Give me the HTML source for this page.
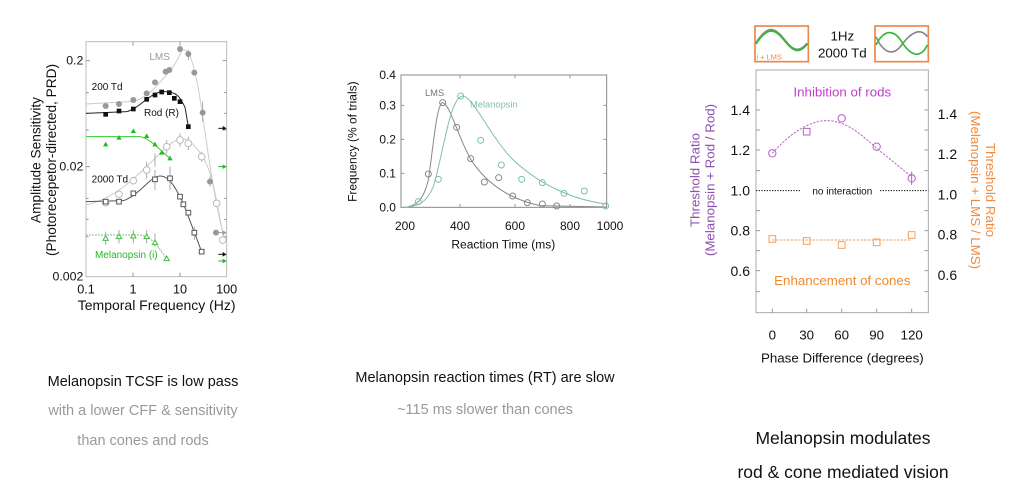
<!DOCTYPE html>
<html><head><meta charset="utf-8"><style>
html,body{margin:0;padding:0;background:#fff;width:1016px;height:489px;overflow:hidden}
svg{font-family:"Liberation Sans",Arial,sans-serif}
</style></head><body>
<svg width="1016" height="489" viewBox="0 0 1016 489" xmlns="http://www.w3.org/2000/svg">
<!-- LEFT PANEL -->
<g transform="translate(0,30) scale(0.33333)">
<rect x="258" y="35" width="422" height="705" fill="none" stroke="#bbb" stroke-width="3"/>
<g stroke="#999" stroke-width="3">
<path d="M258,92h12M258,410h12M680,92h-12M680,410h-12M258,188h8M258,250h8M258,300h8M258,505h8M258,568h8M258,620h8M680,188h-8M680,250h-8M680,300h-8M680,505h-8M680,568h-8M680,620h-8"/>
<path d="M399,740v-12M540,740v-12M399,35v12M540,35v12"/></g>
<g fill="#111" font-size="37" text-anchor="end">
<text x="250" y="104">0.2</text><text x="250" y="422">0.02</text><text x="250" y="752">0.002</text></g>
<g fill="#111" font-size="38" text-anchor="middle">
<text x="258" y="790">0.1</text><text x="399" y="790">1</text><text x="540" y="790">10</text><text x="680" y="790">100</text>
<text x="470" y="840" font-size="42">Temporal Frequency (Hz)</text></g>
<g fill="#111" font-size="41" text-anchor="middle">
<text transform="translate(122,390) rotate(-90)">Amplitude Sensitivity</text>
<text transform="translate(168,390) rotate(-90)">(Photorecepetor-directed, PRD)</text></g>
<g fill="none" stroke-width="3">
<path d="M258,222 L400,214 C440,205 470,170 510,122 S535,52 560,62 C585,90 600,200 620,340 S660,590 678,635" stroke="#ccc"/>
<path d="M258,250 L380,245 C420,235 450,186 490,185 S540,200 555,232 L565,290" stroke="#222"/>
<path d="M258,320 L420,320 C450,325 480,360 510,385" stroke="#3c3"/>
<path d="M258,525 C350,505 420,430 480,370 S560,315 600,368 S650,520 672,630" stroke="#ccc"/>
<path d="M258,515 L370,512 C420,495 450,438 480,438 S530,480 550,520 L605,665" stroke="#555"/>
<path d="M258,615 L420,615 C460,620 480,660 500,686" stroke="#7c7" stroke-dasharray="6,3"/>
</g>
<g stroke="#aaa" stroke-width="3" fill="none">
<path d="M440,395v50M465,370v40M500,330v40M540,310v40M565,320v40M605,365v30M465,420v60M510,410v70M583,590v40M465,610v40M440,600v40M400,600v40M357,600v40M317,605v40M565,60v30M608,215v60M630,440v30"/></g>
<g fill="#999">
<circle cx="317" cy="228" r="9"/><circle cx="357" cy="222" r="9"/><circle cx="400" cy="210" r="9"/><circle cx="440" cy="190" r="9"/><circle cx="465" cy="157" r="9"/><circle cx="497" cy="125" r="9"/><circle cx="508" cy="120" r="9"/><circle cx="540" cy="57" r="9"/><circle cx="565" cy="72" r="9"/><circle cx="583" cy="128" r="9"/><circle cx="608" cy="248" r="9"/><circle cx="630" cy="455" r="9"/><circle cx="648" cy="608" r="9"/></g>
<g fill="#111">
<rect x="310" y="246" width="14" height="14"/><rect x="350" y="236" width="14" height="14"/><rect x="393" y="230" width="14" height="14"/><rect x="433" y="201" width="14" height="14"/><rect x="458" y="188" width="14" height="14"/><rect x="478" y="179" width="14" height="14"/><rect x="501" y="181" width="14" height="14"/><rect x="516" y="198" width="14" height="14"/><rect x="533" y="208" width="14" height="14"/><rect x="558" y="283" width="14" height="14"/></g>
<g fill="#2b2">
<path d="M317,335 l8,14 h-16z M357,315 l8,14 h-16z M400,295 l8,14 h-16z M440,310 l8,14 h-16z M465,335 l8,14 h-16z M485,360 l8,14 h-16z M510,377 l8,14 h-16z"/></g>
<g fill="#fff" stroke="#bbb" stroke-width="3">
<circle cx="317" cy="518" r="10"/><circle cx="357" cy="493" r="10"/><circle cx="400" cy="452" r="10"/><circle cx="440" cy="420" r="10"/><circle cx="500" cy="350" r="10"/><circle cx="540" cy="330" r="10"/><circle cx="565" cy="340" r="10"/><circle cx="605" cy="380" r="10"/><circle cx="650" cy="520" r="10"/><circle cx="668" cy="630" r="10"/></g>
<g fill="#fff" stroke="#555" stroke-width="3">
<rect x="310" y="508" width="14" height="14"/><rect x="350" y="508" width="14" height="14"/><rect x="393" y="483" width="14" height="14"/><rect x="458" y="441" width="14" height="14"/><rect x="503" y="438" width="14" height="14"/><rect x="533" y="493" width="14" height="14"/><rect x="543" y="516" width="14" height="14"/><rect x="558" y="541" width="14" height="14"/><rect x="576" y="601" width="14" height="14"/><rect x="598" y="658" width="14" height="14"/></g>
<g fill="#fff" stroke="#4b4" stroke-width="3">
<path d="M317,617 l8,14 h-16z M357,612 l8,14 h-16z M400,610 l8,14 h-16z M440,612 l8,14 h-16z M465,630 l8,14 h-16z M500,678 l8,14 h-16z"/></g>
<g font-size="30">
<text x="448" y="90" fill="#999">LMS</text>
<text x="275" y="180" fill="#111">200 Td</text>
<text x="432" y="258" fill="#111">Rod (R)</text>
<text x="275" y="458" fill="#111">2000 Td</text>
<text x="285" y="684" fill="#2b2">Melanopsin (i)</text></g>
<g stroke-width="3">
<path d="M655,295 h15" stroke="#111"/><path d="M655,410 h15" stroke="#2b2"/><path d="M655,608 h15" stroke="#999"/><path d="M655,673 h15" stroke="#111"/><path d="M655,693 h15" stroke="#2b2"/></g>
<g><path d="M668,288 l12,7 l-12,7z" fill="#111"/><path d="M668,403 l12,7 l-12,7z" fill="#2b2"/><path d="M668,601 l12,7 l-12,7z" fill="#999"/><path d="M668,666 l12,7 l-12,7z" fill="#111"/><path d="M668,686 l12,7 l-12,7z" fill="#2b2"/></g>
</g>
<text x="143" y="386" font-size="14.5" text-anchor="middle" fill="#111">Melanopsin TCSF is low pass</text>
<text x="143" y="415" font-size="14.5" text-anchor="middle" fill="#999">with a lower CFF &amp; sensitivity</text>
<text x="143" y="445" font-size="14.5" text-anchor="middle" fill="#999">than cones and rods</text>

<!-- MIDDLE PANEL -->
<g transform="translate(340,60) scale(0.33333)">
<rect x="183" y="45" width="617" height="397" fill="none" stroke="#888" stroke-width="3"/>
<g stroke="#999" stroke-width="3">
<path d="M183,136h10M183,238h10M183,340h10M800,136h-10M800,238h-10M800,340h-10M360,442v-10M525,442v-10M690,442v-10M360,45v10M525,45v10M690,45v10"/></g>
<g fill="#111" font-size="36" text-anchor="end">
<text x="168" y="57">0.4</text><text x="168" y="149">0.3</text><text x="168" y="251">0.2</text><text x="168" y="353">0.1</text><text x="168" y="455">0.0</text></g>
<g fill="#111" font-size="36" text-anchor="middle">
<text x="195" y="510">200</text><text x="360" y="510">400</text><text x="525" y="510">600</text><text x="690" y="510">800</text><text x="810" y="510">1000</text>
<text x="490" y="566">Reaction Time (ms)</text>
<text transform="translate(50,245) rotate(-90)">Frequency (% of trials)</text></g>
<path d="M190,442 C230,440 250,420 265,360 C280,260 290,130 308,128 C330,130 360,250 400,310 C450,380 520,420 600,437 L800,441" fill="none" stroke="#888" stroke-width="3"/>
<path d="M190,442 C240,440 260,425 280,380 C310,280 330,110 368,108 C400,110 450,230 520,300 C600,375 700,420 800,432" fill="none" stroke="#7fbfab" stroke-width="3"/>
<g fill="none" stroke="#888" stroke-width="3">
<circle cx="265" cy="342" r="9"/><circle cx="308" cy="128" r="9"/><circle cx="350" cy="202" r="9"/><circle cx="392" cy="296" r="9"/><circle cx="433" cy="366" r="9"/><circle cx="476" cy="353" r="9"/><circle cx="518" cy="408" r="9"/><circle cx="562" cy="428" r="9"/><circle cx="607" cy="432" r="9"/><circle cx="650" cy="438" r="9"/></g>
<g fill="none" stroke="#7fbfab" stroke-width="3">
<circle cx="235" cy="425" r="9"/><circle cx="295" cy="358" r="9"/><circle cx="362" cy="108" r="9"/><circle cx="422" cy="241" r="9"/><circle cx="484" cy="315" r="9"/><circle cx="545" cy="358" r="9"/><circle cx="607" cy="368" r="9"/><circle cx="672" cy="400" r="9"/><circle cx="733" cy="393" r="9"/><circle cx="797" cy="438" r="9"/></g>
<text x="255" y="108" font-size="28" fill="#777">LMS</text>
<text x="390" y="142" font-size="28" fill="#7fbfab">Melanopsin</text>
</g>
<text x="485" y="382" font-size="14.5" text-anchor="middle" fill="#111">Melanopsin reaction times (RT) are slow</text>
<text x="485" y="414" font-size="14.5" text-anchor="middle" fill="#999">~115 ms slower than cones</text>

<!-- RIGHT PANEL -->
<g transform="translate(680,20) scale(0.33333)">
<rect x="228" y="150" width="517" height="728" fill="none" stroke="#aaa" stroke-width="3"/>
<g stroke="#999" stroke-width="3">
<path d="M228,210h12M228,270h12M228,330h12M228,390h12M228,452h12M228,572h12M228,632h12M228,692h12M228,752h12M228,815h12"/>
<path d="M745,210h-12M745,270h-12M745,330h-12M745,390h-12M745,452h-12M745,572h-12M745,632h-12M745,692h-12M745,752h-12M745,815h-12"/>
<path d="M277,878v-12M380,878v-12M485,878v-12M590,878v-12M695,878v-12"/></g>
<rect x="225" y="18" width="160" height="107" fill="#fff" stroke="#e8884a" stroke-width="5"/>
<rect x="585" y="18" width="160" height="107" fill="#fff" stroke="#e8884a" stroke-width="5"/>
<path d="M228,70 C260,20 280,20 305,50 S350,110 382,70" fill="none" stroke="#888" stroke-width="7"/>
<path d="M228,72 C260,24 280,24 305,52 S350,114 382,72" fill="none" stroke="#3b3" stroke-width="5"/>
<text x="230" y="118" font-size="22" fill="#e8884a">i + LMS</text>
<path d="M588,50 C610,100 640,110 665,75 S720,20 742,50" fill="none" stroke="#888" stroke-width="5"/>
<path d="M588,75 C610,30 640,25 665,65 S720,120 742,75" fill="none" stroke="#3b3" stroke-width="5"/>
<g font-size="40" text-anchor="middle" fill="#111"><text x="487" y="62">1Hz</text><text x="487" y="112">2000 Td</text></g>
<g fill="#111" font-size="42" text-anchor="end">
<text x="210" y="285">1.4</text><text x="210" y="405">1.2</text><text x="210" y="527">1.0</text><text x="210" y="647">0.8</text><text x="210" y="768">0.6</text></g>
<g fill="#111" font-size="42" text-anchor="start">
<text x="773" y="297">1.4</text><text x="773" y="417">1.2</text><text x="773" y="539">1.0</text><text x="773" y="659">0.8</text><text x="773" y="780">0.6</text></g>
<g fill="#111" font-size="40" text-anchor="middle">
<text x="277" y="958">0</text><text x="380" y="958">30</text><text x="485" y="958">60</text><text x="590" y="958">90</text><text x="695" y="958">120</text>
<text x="487" y="1028">Phase Difference (degrees)</text></g>
<g fill="#9050b0" font-size="40" text-anchor="middle">
<text transform="translate(58,480) rotate(-90)">Threshold Ratio</text>
<text transform="translate(103,480) rotate(-90)">(Melanopsin + Rod / Rod)</text></g>
<g fill="#f08a40" font-size="40" text-anchor="middle">
<text transform="translate(918,510) rotate(90)">Threshold Ratio</text>
<text transform="translate(873,510) rotate(90)">(Melanopsin + LMS / LMS)</text></g>
<path d="M228,512 H360 M600,512 H745" stroke="#111" stroke-width="3" stroke-dasharray="4,4"/>
<text x="487" y="524" font-size="30" text-anchor="middle" fill="#111">no interaction</text>
<path d="M277,400 C330,340 390,300 445,302 C500,305 540,340 590,385 C640,425 670,450 695,470" fill="none" stroke="#c060c8" stroke-width="3" stroke-dasharray="7,4"/>
<path d="M277,660 H695" stroke="#f0a060" stroke-width="3" stroke-dasharray="7,4"/>
<g fill="none" stroke="#b060c0" stroke-width="3">
<circle cx="277" cy="400" r="11"/><rect x="370" y="325" width="20" height="20"/><circle cx="485" cy="295" r="11"/><circle cx="590" cy="380" r="11"/><circle cx="695" cy="475" r="11"/><path d="M695,455 v40"/></g>
<g fill="none" stroke="#f0a060" stroke-width="3">
<rect x="267" y="647" width="20" height="20"/><rect x="370" y="653" width="20" height="20"/><rect x="475" y="665" width="20" height="20"/><rect x="580" y="657" width="20" height="20"/><rect x="685" y="635" width="20" height="20"/></g>
<text x="487" y="230" font-size="40" text-anchor="middle" fill="#c040c8">Inhibition of rods</text>
<text x="487" y="795" font-size="40" text-anchor="middle" fill="#f08a30">Enhancement of cones</text>
</g>
<text x="843" y="444" font-size="17.5" text-anchor="middle" fill="#111">Melanopsin modulates</text>
<text x="843" y="478" font-size="17.5" text-anchor="middle" fill="#111">rod &amp; cone mediated vision</text>
</svg>
</body></html>
